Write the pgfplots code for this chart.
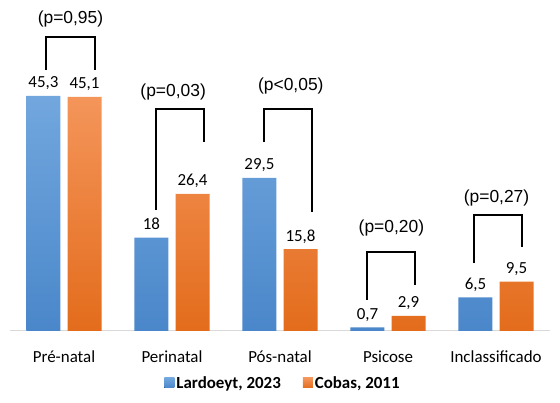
\documentclass[border=0pt]{standalone}
\usepackage{pgfplots}
\pgfplotsset{compat=1.18}
\usepackage{fontspec}
\setmainfont{Carlito}
\newfontfamily\arialf{Liberation Sans}
\definecolor{bluetop}{HTML}{72A7DE}
\definecolor{bluebot}{HTML}{4A87CA}
\definecolor{orgtop}{HTML}{F4955A}
\definecolor{orgbot}{HTML}{E36C1C}
\definecolor{axgray}{HTML}{D9D9D9}
\begin{document}
\begin{tikzpicture}
\path[use as bounding box] (0,0) rectangle (560bp,403bp);
\begin{axis}[
  at={(10bp,72bp)}, anchor=south west,
  scale only axis, width=540bp, height=331bp,
  xmin=-0.5, xmax=4.5, ymin=0, ymax=63.78,
  clip=false,
  axis x line*=bottom, axis y line=none,
  axis line style={draw=axgray, line width=1bp, -},
  xtick={0,1,2,3,4},
  xticklabels={Pré-natal, Perinatal, Pós-natal, Psicose, Inclassificado},
  xtick style={draw=none},
  xticklabel style={font=\fontsize{17}{20}\selectfont, anchor=base, yshift=-27bp},
  ybar, bar width=0.315,
  point meta=explicit symbolic,
  nodes near coords={\pgfplotspointmeta},
  nodes near coords style={font=\fontsize{17}{20}\selectfont, text=black, inner sep=0pt, outer sep=0pt, text depth=0pt, anchor=south, yshift=8bp},
  legend columns=2,
  legend style={at={(rel axis cs:0.5056,-0.157)}, anchor=center, draw=none, fill=none,
    font=\fontsize{17}{20}\selectfont\bfseries,
    /tikz/every even column/.append style={column sep=20bp}},
  legend image code/.code={\fill[#1, draw=none] (0bp,-5bp) rectangle (10bp,5bp);},
]
\addplot[bar shift=-0.19, draw=none, top color=bluetop, bottom color=bluebot]
  coordinates {(0,45.3) [45,3] (1,18) [18] (2,29.5) [29,5] (3,0.7) [0,7] (4,6.5) [6,5]};
\addlegendentry{Lardoeyt, 2023}
\addplot[bar shift=0.19, draw=none, top color=orgtop, bottom color=orgbot]
  coordinates {(0,45.1) [45,1] (1,26.4) [26,4] (2,15.8) [15,8] (3,2.9) [2,9] (4,9.5) [9,5]};
\addlegendentry{Cobas, 2011}
% significance brackets
\draw[line width=2bp, black] (axis cs:-0.165,50.3) -- (axis cs:-0.165,56.7) -- (axis cs:0.289,56.7) -- (axis cs:0.289,50.3);
\draw[line width=2bp, black] (axis cs:0.854,23.3) -- (axis cs:0.854,42.8) -- (axis cs:1.298,42.8) -- (axis cs:1.298,36.4);
\draw[line width=2bp, black] (axis cs:1.856,36.4) -- (axis cs:1.856,42.8) -- (axis cs:2.294,42.8) -- (axis cs:2.294,22.9);
\draw[line width=2bp, black] (axis cs:2.804,6.0) -- (axis cs:2.804,15.3) -- (axis cs:3.252,15.3) -- (axis cs:3.252,8.9);
\draw[line width=2bp, black] (axis cs:3.792,13.1) -- (axis cs:3.792,22.4) -- (axis cs:4.243,22.4) -- (axis cs:4.243,16.2);
\begin{scope}[every node/.style={font=\arialf\fontsize{17.5}{20}\selectfont, inner sep=0pt}]
\node at (axis cs:0.06,60.1) {(p=0,95)};
\node at (axis cs:1.011,46.0) {(p=0,03)};
\node at (axis cs:2.10,47.2) {(p<0,05)};
\node at (axis cs:3.032,19.8) {(p=0,20)};
\node at (axis cs:4.005,25.6) {(p=0,27)};
\end{scope}
\end{axis}
\end{tikzpicture}
\end{document}
